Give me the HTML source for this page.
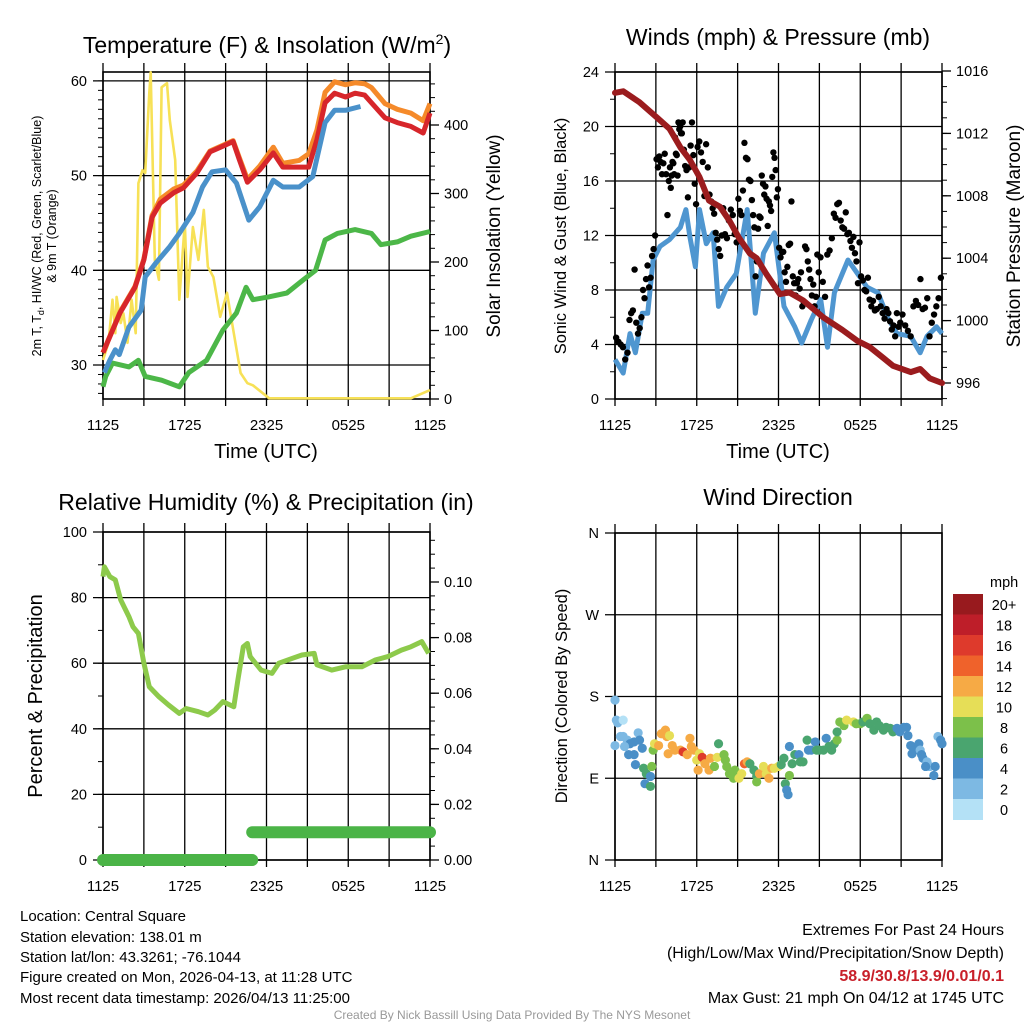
<!DOCTYPE html>
<html><head><meta charset="utf-8"><style>
html,body{margin:0;padding:0;background:#fff;}
svg{display:block;font-family:"Liberation Sans",Arial,sans-serif;}
</style></head>
<body>
<svg id="root" width="1024" height="1024" viewBox="0 0 1024 1024" xmlns="http://www.w3.org/2000/svg">
<rect width="1024" height="1024" fill="#fff"/>
<text x="267" y="53" font-size="23" text-anchor="middle">Temperature (F) &amp; Insolation (W/m<tspan font-size="14" dy="-9">2</tspan><tspan dy="9">)</tspan></text>
<text x="778" y="45" font-size="23" text-anchor="middle">Winds (mph) &amp; Pressure (mb)</text>
<text x="266" y="510" font-size="23" text-anchor="middle">Relative Humidity (%) &amp; Precipitation (in)</text>
<text x="778" y="505" font-size="23" text-anchor="middle">Wind Direction</text>

<text transform="translate(41,236) rotate(-90)" font-size="12.5" text-anchor="middle">2m T, T<tspan font-size="9" dy="3">d</tspan><tspan dy="-3">, HI/WC (Red, Green, Scarlet/Blue)</tspan></text>
<text transform="translate(56,236) rotate(-90)" font-size="12.5" text-anchor="middle">&amp; 9m T (Orange)</text>
<text transform="translate(500,236) rotate(-90)" font-size="19" text-anchor="middle">Solar Insolation (Yellow)</text>
<text transform="translate(566,236) rotate(-90)" font-size="16.5" text-anchor="middle">Sonic Wind &amp; Gust (Blue, Black)</text>
<text transform="translate(1020,236) rotate(-90)" font-size="19" text-anchor="middle">Station Pressure (Maroon)</text>
<text transform="translate(42,696) rotate(-90)" font-size="20" text-anchor="middle">Percent &amp; Precipitation</text>
<text transform="translate(567,696) rotate(-90)" font-size="16.5" text-anchor="middle">Direction (Colored By Speed)</text>
<text x="266" y="458" font-size="20" text-anchor="middle">Time (UTC)</text>
<text x="778" y="458" font-size="20" text-anchor="middle">Time (UTC)</text>

<g font-size="15">
<text x="20" y="921">Location: Central Square</text>
<text x="20" y="942">Station elevation: 138.01 m</text>
<text x="20" y="962">Station lat/lon: 43.3261; -76.1044</text>
<text x="20" y="982">Figure created on Mon, 2026-04-13, at 11:28 UTC</text>
<text x="20" y="1003">Most recent data timestamp: 2026/04/13 11:25:00</text>
</g>
<g font-size="16" text-anchor="end">
<text x="1004" y="935">Extremes For Past 24 Hours</text>
<text x="1004" y="958">(High/Low/Max Wind/Precipitation/Snow Depth)</text>
<text x="1004" y="981" fill="#c8202a" font-weight="bold">58.9/30.8/13.9/0.01/0.1</text>
<text x="1004" y="1003">Max Gust: 21 mph On 04/12 at 1745 UTC</text>
</g>
<text x="512" y="1019" font-size="12" fill="#999" text-anchor="middle">Created By Nick Bassill Using Data Provided By The NYS Mesonet</text>
</svg>
<script>
// ---------- DATA ----------
const timeTickLabels = ["1125","1725","2325","0525","1125"];
const tempHours = [0,1.25,2.35,3,3.6,4.2,5.2,5.9,6.9,7.85,8.8,9.55,10,10.6,11.5,12.5,13.2,14.4,15.1,15.7,16.3,17,17.8,18.5,19.2,19.7,20.7,21.6,22.6,23.5,24];
const redTemp = [31.3,35.5,38.2,41.1,45.6,47.1,48.2,48.7,50.3,52.5,53.1,53.6,51.7,49.3,50.6,52.4,50.9,50.9,50.9,53.8,57.7,58.7,58.3,58.7,58.5,57.7,56.1,55.6,55.2,54.5,56.6];
const orangeTemp = [31.3,35.6,38.3,41.2,45.8,47.5,48.6,49,50.5,52.6,53.2,53.7,51.9,49.6,51,53,51.3,51.6,52.3,54.8,58.8,59.9,59.6,59.8,59.7,59.3,57.6,57,56.6,55.8,57.6];
const blueHours = [0.1,0.5,0.9,1.2,1.9,2.8,3.1,3.9,4.9,5.6,6.6,7.3,8,9,9.8,10.7,11.5,12.5,13.2,14.4,15.4,16.3,17,17.8,18.9];
const blueTemp = [29.2,30.5,31.6,31.1,34,35.8,39.3,40.8,42.5,43.9,46.1,48.8,50.4,50.6,49.2,45.3,46.7,49.5,48.8,48.8,49.9,55.6,56.9,56.9,57.3];
const greenHours = [0,0.2,0.7,1.9,2.6,3.1,4.3,5.6,6.3,7.6,8.8,9.8,10.5,11,12.2,13.5,14.7,15.6,16.3,17.2,18.5,19.7,20.4,21.6,22.6,24];
const greenTemp = [27.7,28.8,30.2,29.8,30.5,28.8,28.4,27.7,29.2,30.5,33.7,35.5,38.2,36.9,37.2,37.6,39,40,43.2,43.9,44.3,43.9,42.7,43,43.6,44.1];
const solarHours = [0,0.4,0.7,0.9,1,1.3,1.5,1.8,2.1,2.4,2.6,2.9,3.1,3.4,3.5,3.8,4.1,4.3,4.7,4.9,5.3,5.6,6,6.2,6.6,7,7.4,7.7,8.1,8.6,9.1,9.6,10.1,10.6,11,12.2,22.6,24];
const solarW = [57,82,145,96,149,111,125,82,145,96,315,334,330,447,477,203,174,455,461,407,349,145,257,149,251,203,276,193,178,120,155,96,38,23,20,1,1,13];

const windHours = [0,0.6,1.1,1.5,2,2.4,2.8,3.3,4,4.8,5.2,5.5,5.9,6.2,6.7,7.2,7.6,8.2,8.9,9.7,10.3,10.9,11.7,12.4,13.2,13.7,14.4,15.1,15.6,16.1,17.1,17.8,18.5,19.3,20,20.7,21.7,22.4,22.9,23.6,24];
const windSpeed = [2.9,1.9,4.8,3.4,6.3,6.3,10.2,11.2,11.7,12.6,13.9,11.9,9.7,13.9,11.4,12.2,6.8,8.2,9.2,13.9,6.3,10.7,12.2,6.8,5.3,4.1,5.8,7.3,3.8,7.8,10.2,9.2,8.2,7.8,6,4.8,4.6,3.4,4.6,5.3,4.8];
const pressHours = [0,0.6,1.8,3.1,4,4.8,5.5,6.2,6.9,7.7,8.4,9.1,9.9,10.4,11.1,12.1,12.8,13.8,15.3,16.7,17.8,18.7,19.7,20.4,21.7,22.4,23.1,24];
const pressMb = [1014.6,1014.7,1014,1013,1012.3,1011.1,1010.3,1009.2,1007.7,1007.3,1006.4,1005.3,1004.3,1004,1003,1001.7,1001.8,1001.3,1000.2,999.4,998.7,998.3,997.6,997.1,996.7,996.9,996.3,996];
const gustByHour = [
 [4.5,4.2,4,3.8,2.9,3.4],
 [5.8,6.3,6.5,9.5,5.6,4.8,5.2,6],
 [8,7.4,8.8,9.8,8.2,8.9,10.5,11,12],
 [17.6,17,17.8,17.4,16.5,17.3,18,16.5,13.5,16],
 [17,15.5,16.4,17.4,17.3,16.5,19.2,18,17.9,16.4,20.3,19.8,20,19.5,19.5,20.3],
 [18.3,17.1,16.8,14.8,17,18.6,20.3,17.9,15.8,14.3],
 [18.5,18.9,18.1,17.4,14.9,18.7,17,15],
 [14.5,14,13.6,12.2,11.7,11,10.5,12,14],
 [12.1,11.8,13.1,13.9,13.5,12.1,11.5],
 [14.7,13.8,13.5,15.3,18.8,17.7,17.6,16.1,16],
 [14.6,13.5,12.6,9,10.1,12.5,13.4,13.3,16.4,15.8,15],
 [15.6,14.7,12.7,14.5,14.2,13.8,16.3,18.1,17.7,16.8,14.8,15.4],
 [11.1,10.4,10.8,10.8,9.3,8.6,9.7,11.3,11.4,14.5],
 [9,8.5,7.6,8.5,8.8,8.1,9.3,6.8,7.1,11.2],
 [11,10.1,9.5,8.8,7.6,8.4,6.8,7.5,10.6,9.3],
 [10.4,8.6,7.5,10.6,10.9,11.8],
 [13.6,13.3,14.3,14.4,13.1,12.6,12.5,13.7],
 [12.1,12.2,11.6,11.1,11.9,10.7,10.1,8.5,11.5],
 [9,8.7,8,7.9,8.9,7.3,6.8,7.2],
 [6.5,6.6,7.5,6.8,6.3,5.9,6.6],
 [6.3,5.7,5.1,5.4,4.6,6.3,5.3,5.6],
 [6.2,5.4,5,4.6,6.8],
 [7.2,6.9,8.8,6.6,6.7,7.4],
 [4.6,5.6,6.2,6.8,7.4,8.9]
];

const rhHours = [0,0.1,0.5,0.9,1.3,1.9,2.2,2.6,3,3.4,4.1,4.8,5.6,6.1,7,7.7,8.2,8.8,9.6,9.9,10.3,10.6,10.8,11.6,12.4,12.9,13.9,14.6,15.5,15.7,16.8,17.8,19,20,20.9,21.9,22.6,23.4,23.9];
const rhPct = [86.4,89.4,86.4,85.4,79.3,74.2,71.1,69.1,60,52.8,49.8,47.3,44.7,46.2,45.2,44.2,45.7,48.3,46.7,54.9,65,66,62,57.9,56.9,60,61.5,62.5,63,59.5,57.9,58.9,58.9,61,62,64,65,66.6,63];
const precipStart = [0,10.95];
const precipEnd = [10.95,24];
const precipIn = [0,0.01];

const dirHours = [0,0.1,0.2,0.6,0.4,0.6,0.9,0,1.1,0.7,1.4,1,1.4,1.7,1.8,2,1.5,2.1,2.3,2.2,2.6,2.6,2.7,2.8,2.9,3.2,3.4,3.7,3.8,4,4.2,3.9,4.4,4.8,5,5.3,5.5,5.6,5.8,6,6.1,6.2,6.4,6.6,6.9,7,7.3,7.5,7.6,8,8.1,8.2,8.4,8.7,8.8,9.1,9.3,9.5,9.7,9.9,10.2,10.4,10.4,10.6,10.9,11.1,11.3,11.5,11.7,12,12.2,12.4,12.5,12.6,12.7,12.8,13,13.2,13.5,12.8,13.6,13.8,14.1,14.2,14.4,14.7,14.8,15,15.3,15.5,15.7,15.9,16.1,16.3,16.3,16.5,16.8,17,17.5,17.7,18,18.2,18.5,18.7,19,19.2,19.4,19.7,19.9,20.2,20.4,20.7,20.9,21.2,21.4,21.5,21.7,21.8,22,22.3,22.4,22.5,22.6,22.8,22.9,23.1,23.4,22.8,23.5,23.7,23.9,24];
const dirDeg = [176,154,151,154,136,136,132,126,128,125,130,116,116,140,132,123,105,101,95,84,92,81,103,121,128,126,139,143,136,137,126,117,121,121,119,116,134,125,121,110,99,117,113,106,99,112,103,113,128,116,110,103,95,90,99,90,95,106,108,106,99,92,86,95,103,95,90,101,101,103,105,112,84,77,72,93,106,116,116,125,108,108,132,121,121,130,121,121,121,134,125,121,128,132,141,152,148,154,152,150,150,152,156,150,143,152,148,143,146,145,141,145,141,146,146,137,126,117,121,128,121,116,112,103,108,103,93,103,103,136,132,128];
const dirSpeed = [3,2,2,1,2,2,3,3,4,2,4,4,4,3,4,4,4,6,6,4,4,6,8,8,10,12,12,12,12,10,12,12,12,12,16,12,12,12,12,10,12,10,16,12,12,12,8,10,6,8,8,8,8,8,8,10,10,14,12,6,6,6,8,12,10,10,12,12,10,10,6,6,6,4,4,8,6,6,4,4,6,6,6,4,4,4,6,6,6,4,6,6,6,8,6,8,8,10,10,8,8,6,8,6,6,6,6,6,6,6,6,4,4,4,4,4,4,4,4,4,2,4,4,2,2,2,4,4,4,2,4,4];
const speedBinLabels = ["0","2","4","6","8","10","12","14","16","18","20+"];
const speedBinColors = ["#b4e1f6","#7db9e3","#4a8fc7","#4aa56f","#7cc04a","#e6de57","#f6aa45","#ef622b","#de3a2c","#be1e29","#981a1e"];

// ---------- HELPERS ----------
const NS = "http://www.w3.org/2000/svg";
const root = document.getElementById("root");
function mk(tag, attrs, parent){ const e=document.createElementNS(NS,tag); for(const k in attrs) e.setAttribute(k,attrs[k]); (parent||root).appendChild(e); return e; }
function xScale(p,h){ return p.x0 + h/24*(p.x1-p.x0); }

const P1={x0:103,x1:430,y0:72,y1:399};
const P2={x0:615,x1:942,y0:72,y1:399};
const P3={x0:103,x1:430,y0:532,y1:860};
const P4={x0:615,x1:942,y0:533,y1:860};
const yTemp=v=>365+(30-v)*9.47;
const ySolar=w=>399-w*0.685;
const yWind=v=>399-v*13.625;
const yPress=p=>383-(p-996)*15.6;
const yRH=v=>860-v*3.28;
const yPrecip=v=>860-v*2780;
const yDir=d=>860-d*0.9083;

function frame(p, name){
  const g=mk("g",{});
  
  
  for(let h=0;h<=24;h+=3){
    const x=xScale(p,h);
    const l=mk("line",{x1:x,x2:x,y1:p.y0-9,y2:p.y1+7,stroke:"#000","stroke-width":1.3},g);
    
    
  }
  for(let i=0;i<timeTickLabels.length;i++){
    const t=mk("text",{x:xScale(p,i*6),y:p.y1+31,"font-size":15,"text-anchor":"middle"},g);
    t.textContent=timeTickLabels[i];
    
    
  }
  const b=mk("rect",{x:p.x0,y:p.y0,width:p.x1-p.x0,height:p.y1-p.y0,fill:"none",stroke:"#000","stroke-width":1.6},g);
  
  
  return g;
}
function leftAxis(p, vals, labels, yf, minor, name, grid){
  const g=mk("g",{});
  
  
  minor.forEach(v=>{ const y=yf(v); mk("line",{x1:p.x0-5,x2:p.x0,y1:y,y2:y,stroke:"#000","stroke-width":1},g); });
  vals.forEach((v,i)=>{
    const y=yf(v);
    const l=mk("line",{x1:p.x0-10,x2:grid?p.x1:p.x0,y1:y,y2:y,stroke:"#000","stroke-width":1.3},g);
    
    
    const t=mk("text",{x:p.x0-16,y:y+5,"font-size":14.5,"text-anchor":"end"},g);
    t.textContent=labels[i];
    
    
  });
}
function rightAxis(p, vals, labels, yf, minor, name){
  const g=mk("g",{});
  
  
  minor.forEach(v=>{ const y=yf(v); mk("line",{x1:p.x1,x2:p.x1+5,y1:y,y2:y,stroke:"#000","stroke-width":1},g); });
  vals.forEach((v,i)=>{
    const y=yf(v);
    mk("line",{x1:p.x1,x2:p.x1+9,y1:y,y2:y,stroke:"#000","stroke-width":1.3},g);
    const t=mk("text",{x:p.x1+14,y:y+5,"font-size":14.5},g);
    t.textContent=labels[i];
    
    
  });
}
function range(a,b,s){ const r=[]; for(let v=a; v<=b+1e-9; v+=s) r.push(+v.toFixed(4)); return r; }
function linePath(p, hs, vs, yf){ return hs.map((h,i)=>(i?"L":"M")+xScale(p,h).toFixed(1)+","+yf(vs[i]).toFixed(1)).join(""); }

// ---------- PANEL 1 ----------
frame(P1,"temperature");
leftAxis(P1,[30,40,50,60],["30","40","50","60"],yTemp,range(27,60,1),"temp-left-axis",true);
rightAxis(P1,[0,100,200,300,400],["0","100","200","300","400"],ySolar,range(0,460,20),"solar-right-axis");
let el;
el=mk("path",{d:linePath(P1,solarHours,solarW,ySolar),fill:"none",stroke:"#f7e157","stroke-width":2.6,"stroke-linejoin":"round"});


el=mk("path",{d:linePath(P1,greenHours,greenTemp,yTemp),fill:"none",stroke:"#4cb748","stroke-width":5,"stroke-linejoin":"round"});


el=mk("path",{d:linePath(P1,tempHours,orangeTemp,yTemp),fill:"none",stroke:"#f58a2a","stroke-width":5,"stroke-linejoin":"round"});


el=mk("path",{d:linePath(P1,tempHours,redTemp,yTemp),fill:"none",stroke:"#d7262b","stroke-width":5,"stroke-linejoin":"round"});


el=mk("path",{d:linePath(P1,blueHours,blueTemp,yTemp),fill:"none",stroke:"#4a91ca","stroke-width":5,"stroke-linejoin":"round"});



// ---------- PANEL 2 ----------
frame(P2,"winds");
leftAxis(P2,[0,4,8,12,16,20,24],["0","4","8","12","16","20","24"],yWind,range(0,24,2),"wind-left-axis",true);
rightAxis(P2,[996,1000,1004,1008,1012,1016],["996","1000","1004","1008","1012","1016"],yPress,range(995,1016,1),"pressure-right-axis");
el=mk("path",{d:linePath(P2,windHours,windSpeed,yWind),fill:"none",stroke:"#4f96d0","stroke-width":5,"stroke-linejoin":"round"});


const gustG=mk("g",{});


gustByHour.forEach((arr,h)=>arr.forEach((v,i)=>{
  const c=mk("circle",{cx:xScale(P2,h+(i+0.5)/arr.length),cy:yWind(v),r:3.2,fill:"#000"},gustG);
  
  
}));
el=mk("path",{d:linePath(P2,pressHours,pressMb,yPress),fill:"none",stroke:"#9b1c1e","stroke-width":6,"stroke-linejoin":"round","stroke-linecap":"round"});



// ---------- PANEL 3 ----------
frame(P3,"humidity");
leftAxis(P3,[0,20,40,60,80,100],["0","20","40","60","80","100"],yRH,range(0,100,10),"rh-left-axis",true);
rightAxis(P3,[0,0.02,0.04,0.06,0.08,0.1],["0.00","0.02","0.04","0.06","0.08","0.10"],yPrecip,range(0,0.115,0.005),"precip-right-axis");
el=mk("path",{d:linePath(P3,rhHours,rhPct,yRH),fill:"none",stroke:"#8dca4b","stroke-width":5,"stroke-linejoin":"round"});


precipIn.forEach((v,i)=>{
  const l=mk("line",{x1:xScale(P3,precipStart[i]),x2:xScale(P3,precipEnd[i]),y1:yPrecip(v),y2:yPrecip(v),stroke:"#4bb447","stroke-width":12,"stroke-linecap":"round"});
  
  
});

// ---------- PANEL 4 ----------
frame(P4,"wind-direction");
leftAxis(P4,[0,90,180,270,360],["N","E","S","W","N"],yDir,[],"direction-left-axis",true);
const dirG=mk("g",{});


const nDir=Math.min(dirHours.length,dirDeg.length,dirSpeed.length);
for(let i=0;i<nDir;i++){
  const bin=Math.min(10,Math.floor(dirSpeed[i]/2));
  const c=mk("circle",{cx:xScale(P4,dirHours[i]),cy:yDir(dirDeg[i]),r:4.6,fill:speedBinColors[bin]},dirG);
  
  
}
const cb=mk("g",{});


const cbTop=594, cbH=20.5;
speedBinColors.forEach((col,i)=>{
  const idx=speedBinColors.length-1-i;
  const y=cbTop+i*cbH;
  const r=mk("rect",{x:953,y:y,width:30,height:cbH+0.5,fill:speedBinColors[idx]},cb);
  
  
  const t=mk("text",{x:1004,y:y+16,"font-size":14.5,"text-anchor":"middle"},cb);
  t.textContent=speedBinLabels[idx];
  
  
});
el=mk("text",{x:990,y:587,"font-size":14.5},cb);
el.textContent="mph";


</script>
</body></html>
